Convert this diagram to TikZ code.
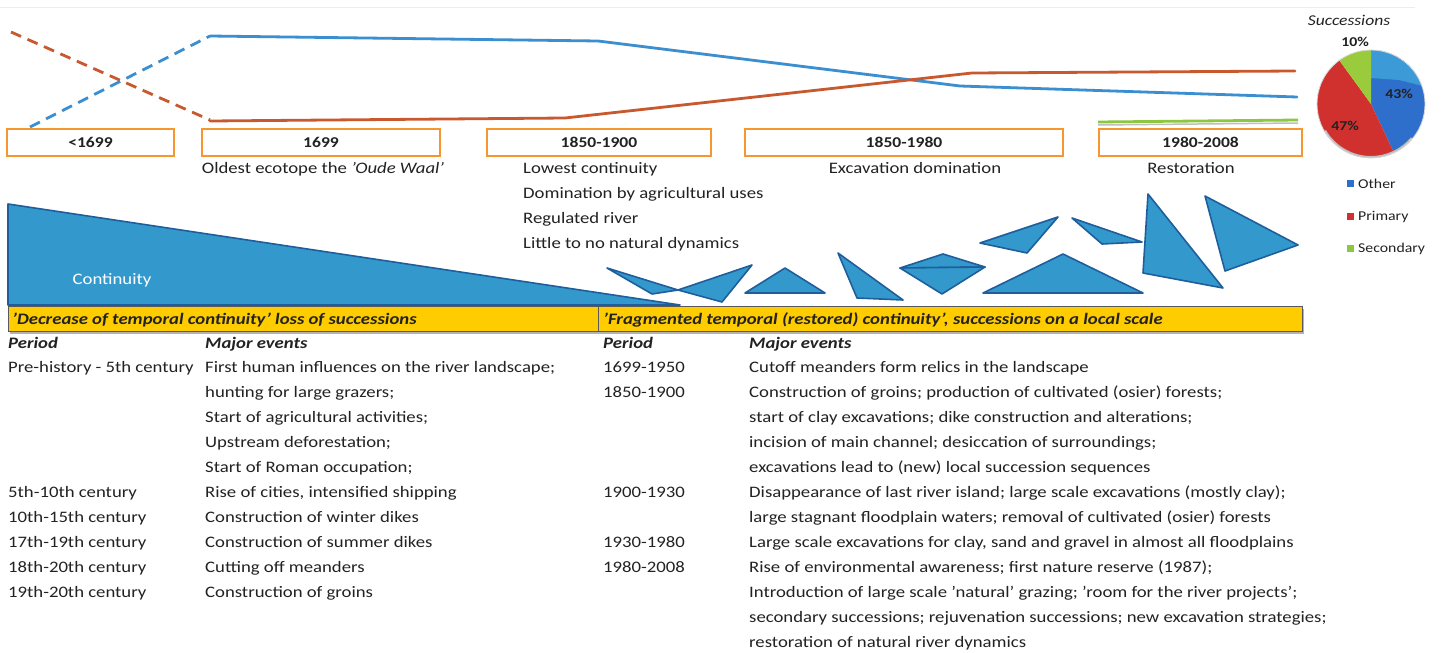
\documentclass[tikz,border=0pt]{standalone}
\usepackage{fontspec}
\setmainfont{Carlito}[FakeStretch=1.17]
\definecolor{txtc}{HTML}{222222}
\definecolor{lineblue}{HTML}{3B8FD0}
\definecolor{lineorange}{HTML}{C8592F}
\definecolor{linegreen}{HTML}{8DC63F}
\definecolor{boxorange}{HTML}{F7962E}
\definecolor{trifill}{HTML}{3399CC}
\definecolor{triedge}{HTML}{1F5E9C}
\definecolor{baryellow}{HTML}{FFCC00}
\definecolor{pieblue}{HTML}{2F6FCC}
\definecolor{pielight}{HTML}{3C9BD6}
\definecolor{piered}{HTML}{D0312F}
\definecolor{piegreen}{HTML}{9ACB3C}
\begin{document}
\begin{tikzpicture}[x=1pt,y=-1pt,
  txt/.style={anchor=base west, inner sep=0pt, text=txtc, font=\fontsize{16}{19}\selectfont},
  ctxt/.style={anchor=base, inner sep=0pt, text=txtc, font=\fontsize{16}{19}\selectfont},
  hdr/.style={txt, font=\fontsize{16}{19}\selectfont\bfseries\itshape},
  yearbox/.style={draw=boxorange, line width=2.6pt, fill=white, minimum height=27pt, inner sep=0pt, text=txtc, font=\fontsize{15}{18}\selectfont\bfseries},
  tri/.style={fill=trifill, draw=triedge, line width=1.6pt, line join=round},
  chartline/.style={line width=2.8pt, line cap=round, line join=round},
  dashline/.style={line width=2.8pt, dash pattern=on 11pt off 7pt},
  legtxt/.style={anchor=west, inner sep=0pt, text=txtc, font=\fontsize{13.5}{16}\selectfont},
  legsq/.style={minimum size=7pt, inner sep=0pt}
]
\useasboundingbox (0,0) rectangle (1443,653);
\fill[white] (0,0) rectangle (1443,653);
\draw[black!7, line width=1pt] (0,7) -- (1415,7);

% chart lines
\draw[dashline, lineorange] (11,32) -- (210,120);
\draw[dashline, lineblue] (30,127) -- (210,36);
\draw[chartline, lineblue] (210,36) -- (598,41) -- (960,86) -- (1297,97);
\draw[chartline, lineorange] (210,121) -- (565,118) -- (972,73) -- (1295,71);
\draw[black!25, line width=1.5pt] (1098,125) -- (1298,123);
\draw[chartline, linegreen, line cap=butt] (1098,122) -- (1298,120);

% period boxes
\node[yearbox, minimum width=167pt] (b1) at (90.5,142.5) {<1699};
\node[yearbox, minimum width=238pt] (b2) at (321,142.5) {1699};
\node[yearbox, minimum width=224pt] (b3) at (599,142.5) {1850-1900};
\node[yearbox, minimum width=318pt] (b4) at (904,142.5) {1850-1980};
\node[yearbox, minimum width=203pt] (b5) at (1200.5,142.5) {1980-2008};

\node[ctxt] (l2) at (323,173) {Oldest ecotope the \textit{'Oude Waal'}};
\node[txt] (l3a) at (523,173) {Lowest continuity};
\node[txt] (l3b) at (523,198) {Domination by agricultural uses};
\node[txt] (l3c) at (523,223) {Regulated river};
\node[txt] (l3d) at (523,248) {Little to no natural dynamics};
\node[ctxt] (l4) at (915,173) {Excavation domination};
\node[ctxt] (l5) at (1191,173) {Restoration};

% continuity wedge
\filldraw[tri] (8,204) -- (680,305) -- (8,305) -- cycle;
\node[anchor=center, inner sep=0pt, text=white, font=\fontsize{16}{19}\selectfont] (cont) at (112,280) {Continuity};

% fragments
\filldraw[tri] (607,268) -- (678,290) -- (652,294) -- cycle;
\filldraw[tri] (678,290) -- (752,265) -- (722,302) -- cycle;
\filldraw[tri] (745,293) -- (785,268) -- (825,293) -- cycle;
\filldraw[tri] (838,253) -- (857,298) -- (903,300) -- cycle;
\filldraw[tri] (900,268) -- (943,254) -- (985,267) -- cycle;
\filldraw[tri] (900,268) -- (985,267) -- (942,294) -- cycle;
\filldraw[tri] (983,293) -- (1063,254) -- (1143,293) -- cycle;
\filldraw[tri] (980,243) -- (1058,217) -- (1027,253) -- cycle;
\filldraw[tri] (1072,218) -- (1142,242) -- (1102,244) -- cycle;
\filldraw[tri] (1148,194) -- (1223,288) -- (1143,273) -- cycle;
\filldraw[tri] (1205,196) -- (1298,245) -- (1225,271) -- cycle;

% yellow bar
\fill[black!30] (10,309) rectangle (1304,334);
\filldraw[fill=baryellow, draw=black!65, line width=1pt] (8,306) rectangle (1302,331);
\draw[black!65, line width=1pt] (598,306) -- (598,331);
\node[hdr] (y1) at (12,324) {'Decrease of temporal continuity' loss of successions};
\node[hdr] (y2) at (603,324) {'Fragmented temporal (restored) continuity', successions on a local scale};

% table left
\node[hdr] (hp1) at (8,348) {Period};
\node[hdr] (he1) at (205,348) {Major events};
\node[txt] (p1) at (8,372) {Pre-history - 5th century};
\node[txt] (e1) at (205,372) {First human influences on the river landscape;};
\node[txt] (e2) at (205,397) {hunting for large grazers;};
\node[txt] (e3) at (205,422) {Start of agricultural activities;};
\node[txt] (e4) at (205,447) {Upstream deforestation;};
\node[txt] (e5) at (205,472) {Start of Roman occupation;};
\node[txt] (p2) at (8,497) {5th-10th century};
\node[txt] (e6) at (205,497) {Rise of cities, intensified shipping};
\node[txt] (p3) at (8,522) {10th-15th century};
\node[txt] (e7) at (205,522) {Construction of winter dikes};
\node[txt] (p4) at (8,547) {17th-19th century};
\node[txt] (e8) at (205,547) {Construction of summer dikes};
\node[txt] (p5) at (8,572) {18th-20th century};
\node[txt] (e9) at (205,572) {Cutting off meanders};
\node[txt] (p6) at (8,597) {19th-20th century};
\node[txt] (e10) at (205,597) {Construction of groins};

% table right
\node[hdr] (hp2) at (603,348) {Period};
\node[hdr] (he2) at (749,348) {Major events};
\node[txt] (q1) at (603,372) {1699-1950};
\node[txt] (f1) at (749,372) {Cutoff meanders form relics in the landscape};
\node[txt] (q2) at (603,397) {1850-1900};
\node[txt] (f2) at (749,397) {Construction of groins; production of cultivated (osier) forests;};
\node[txt] (f3) at (749,422) {start of clay excavations; dike construction and alterations;};
\node[txt] (f4) at (749,447) {incision of main channel; desiccation of surroundings;};
\node[txt] (f5) at (749,472) {excavations lead to (new) local succession sequences};
\node[txt] (q3) at (603,497) {1900-1930};
\node[txt] (f6) at (749,497) {Disappearance of last river island; large scale excavations (mostly clay);};
\node[txt] (f7) at (749,522) {large stagnant floodplain waters; removal of cultivated (osier) forests};
\node[txt] (q4) at (603,547) {1930-1980};
\node[txt] (f8) at (749,547) {Large scale excavations for clay, sand and gravel in almost all floodplains};
\node[txt] (q5) at (603,572) {1980-2008};
\node[txt] (f9) at (749,572) {Rise of environmental awareness; first nature reserve (1987);};
\node[txt] (f10) at (749,597) {Introduction of large scale 'natural' grazing; 'room for the river projects';};
\node[txt] (f11) at (749,622) {secondary successions; rejuvenation successions; new excavation strategies;};
\node[txt] (f12) at (749,647) {restoration of natural river dynamics};

% pie chart
\begin{scope}[shift={(1371,104)}, yscale=-1]
  \fill[pieblue] (0,0) -- (90:54) arc[start angle=90, end angle=-64.8, radius=54] -- cycle;
  \begin{scope}
    \clip (0,0) -- (90:54) arc[start angle=90, end angle=-64.8, radius=54] -- cycle;
    \fill[pielight] (0,60) -- (60,60) -- (60,16) -- (28,24) -- (0,26) -- cycle;
  \end{scope}
  \fill[piered] (0,0) -- (-64.8:54) arc[start angle=-64.8, end angle=-234, radius=54] -- cycle;
  \fill[piegreen] (0,0) -- (126:54) arc[start angle=126, end angle=90, radius=54] -- cycle;
  \draw[black!25, line width=2pt] (-150:53) arc[start angle=-150, end angle=-40, radius=53];
  \draw[black!15, line width=0.8pt] (0,0) circle[radius=54];
\end{scope}
\node[anchor=center, inner sep=0pt, text=txtc, font=\fontsize{13.5}{16}\selectfont\bfseries] (pc1) at (1399,94) {43\%};
\node[anchor=center, inner sep=0pt, text=txtc, font=\fontsize{13.5}{16}\selectfont\bfseries] (pc2) at (1345,126) {47\%};
\node[anchor=center, inner sep=0pt, text=txtc, font=\fontsize{13.5}{16}\selectfont\bfseries] (pc3) at (1355,42) {10\%};
\node[anchor=center, inner sep=0pt, text=txtc, font=\fontsize{15}{18}\selectfont\itshape] (ptitle) at (1349,20) {Successions};

% legend
\node[legsq, fill=pieblue] (s1) at (1350,183) {};
\node[legtxt] (t1) at (1358,184) {Other};
\node[legsq, fill=piered] (s2) at (1350,216) {};
\node[legtxt] (t2) at (1358,217) {Primary};
\node[legsq, fill=linegreen] (s3) at (1350,248) {};
\node[legtxt] (t3) at (1358,249) {Secondary};
\end{tikzpicture}
\end{document}
